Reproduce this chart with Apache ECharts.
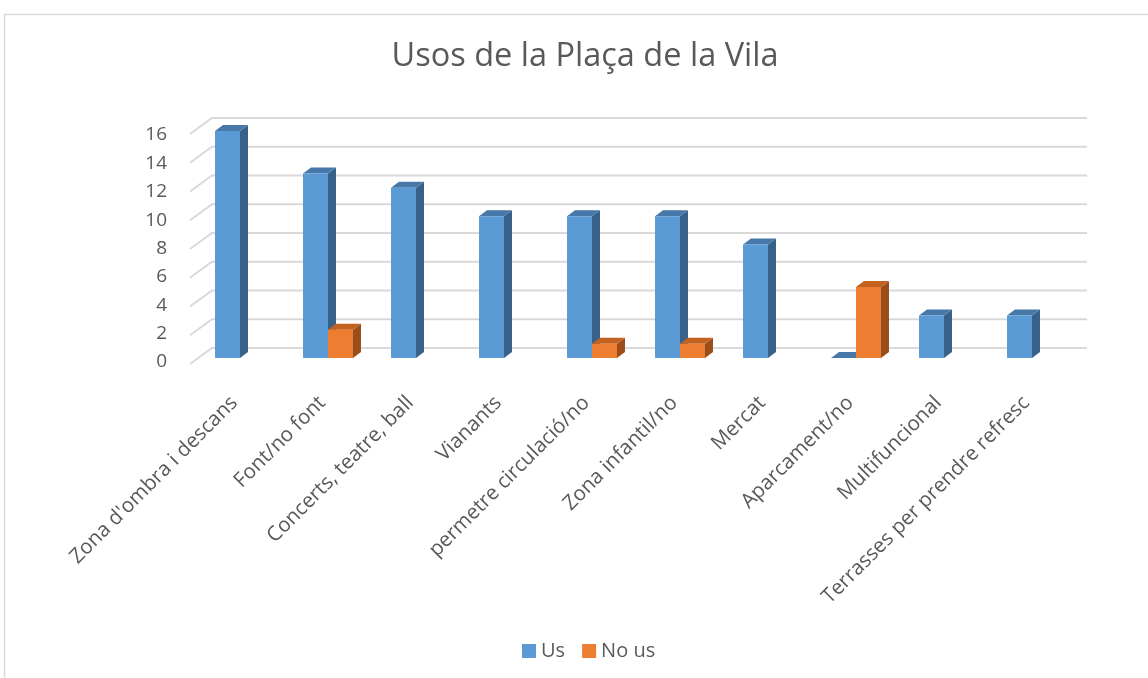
<!DOCTYPE html>
<html>
<head>
<meta charset="utf-8">
<script src="https://cdn.jsdelivr.net/npm/echarts@6/dist/echarts.min.js"></script>
<style>
  html, body { margin: 0; padding: 0; background: #fff; }
  #graphContainer { width: 1148px; height: 678px; }
</style>
</head>
<body>
<div id="graphContainer"></div>
<script>
var categories = ["Zona d'ombra i descans", 'Font/no font', 'Concerts, teatre, ball', 'Vianants',
  'permetre circulació/no', 'Zona infantil/no', 'Mercat', 'Aparcament/no', 'Multifuncional',
  'Terrasses per prendre refresc'];
var usValues = [16, 13, 12, 10, 10, 10, 8, 0, 3, 3];
var noUsValues = [null, 2, null, null, 1, 1, null, 5, null, null];
var gridValues = [0, 2, 4, 6, 8, 10, 12, 14, 16];

var labelColor = '#595959';
var fontName = 'Open Sans';
var depthX = 8, depthY = -6;     // bar depth
var wallX = -22, wallY = 16;     // side wall depth (back -> front)

var barColors = [
  { front: '#5B9BD5', top: '#4778a9', side: '#386189' },
  { front: '#ED7D31', top: '#c3621f', side: '#9b4e1b' }
];

function seriesData(values) {
  var out = [];
  for (var i = 0; i < values.length; i++) {
    if (values[i] !== null) out.push([i, values[i]]);
  }
  return out;
}

function barRenderer(idx) {
  return function (params, api) {
    var cat = api.value(0);
    var val = api.value(1);
    var base = api.coord([cat, 0]);
    var top = api.coord([cat, val]);
    var band = api.size([1, 0])[0];
    var w = band * 0.284;
    var x0 = idx === 0 ? base[0] - w : base[0];
    var x1 = x0 + w;
    var c = barColors[idx];
    return {
      type: 'group',
      children: [
        {
          type: 'polygon',
          shape: { points: [[x1, top[1]], [x1 + depthX, top[1] + depthY], [x1 + depthX, base[1] + depthY], [x1, base[1]]] },
          style: { fill: c.side }
        },
        {
          type: 'polygon',
          shape: { points: [[x0, top[1]], [x0 + depthX, top[1] + depthY], [x1 + depthX, top[1] + depthY], [x1, top[1]]] },
          style: { fill: c.top }
        },
        {
          type: 'rect',
          shape: { x: x0, y: top[1], width: w, height: base[1] - top[1] },
          style: { fill: c.front }
        }
      ]
    };
  };
}

var dom = document.getElementById('graphContainer');
var myEChart = echarts.init(dom, null, { renderer: 'canvas' });

var option = {
  animation: false,
  title: {
    text: 'Usos de la Plaça de la Vila',
    left: 580,
    top: 35,
    textAlign: 'center',
    textStyle: { fontFamily: fontName, fontSize: 32.5, fontWeight: 'normal', color: labelColor }
  },
  graphic: [{
    type: 'rect',
    shape: { x: 4.5, y: 14.5, width: 1200, height: 700 },
    style: { fill: 'none', stroke: '#d9d9d9', lineWidth: 1.5 },
    silent: true
  }],
  legend: {
    data: ['Us', 'No us'],
    left: 517,
    top: 636,
    icon: 'rect',
    itemWidth: 14,
    itemHeight: 14,
    itemGap: 17,
    textStyle: { fontFamily: fontName, fontSize: 20, color: labelColor }
  },
  grid: [
    { left: 196, right: 72, top: 131, bottom: 320 },   // bars
    { left: 212, right: 61, top: 118, bottom: 330 },   // back wall
    { left: 190, width: 10, top: 135, bottom: 316 }    // front edge, y labels
  ],
  xAxis: [
    {
      gridIndex: 0,
      type: 'category',
      data: categories,
      boundaryGap: true,
      axisLine: { show: false },
      axisTick: { show: false },
      axisLabel: {
        interval: 0,
        rotate: 45,
        margin: 36,
        padding: [0, 8, 0, 0],
        fontFamily: fontName,
        fontSize: 20.5,
        color: labelColor
      }
    },
    { gridIndex: 1, type: 'value', min: 0, max: 1, show: false },
    { gridIndex: 2, type: 'value', min: 0, max: 1, show: false }
  ],
  yAxis: [
    { gridIndex: 0, type: 'value', min: 0, max: 16, interval: 2, show: false },
    { gridIndex: 1, type: 'value', min: 0, max: 16, interval: 2, show: false },
    {
      gridIndex: 2,
      type: 'value',
      min: 0,
      max: 16,
      interval: 2,
      axisLine: { show: false },
      axisTick: { show: false },
      splitLine: { show: false },
      axisLabel: { margin: 23, fontFamily: fontName, fontSize: 19, color: labelColor }
    }
  ],
  series: [
    {
      type: 'custom',
      name: 'wall',
      xAxisIndex: 1,
      yAxisIndex: 1,
      silent: true,
      data: gridValues.map(function (v) { return [0, v]; }),
      renderItem: function (params, api) {
        var left = api.coord([0, api.value(1)]);
        var right = api.coord([1, api.value(1)]);
        return {
          type: 'polyline',
          shape: { points: [[left[0] + wallX, left[1] + wallY], left, right] },
          style: { stroke: '#d9d9d9', lineWidth: 2, fill: null }
        };
      }
    },
    {
      type: 'custom',
      name: 'Us',
      xAxisIndex: 0,
      yAxisIndex: 0,
      itemStyle: { color: barColors[0].front },
      data: seriesData(usValues),
      renderItem: barRenderer(0)
    },
    {
      type: 'custom',
      name: 'No us',
      xAxisIndex: 0,
      yAxisIndex: 0,
      itemStyle: { color: barColors[1].front },
      data: seriesData(noUsValues),
      renderItem: barRenderer(1)
    }
  ]
};

myEChart.setOption(option);
window.addEventListener('resize', myEChart.resize);
</script>
</body>
</html>
